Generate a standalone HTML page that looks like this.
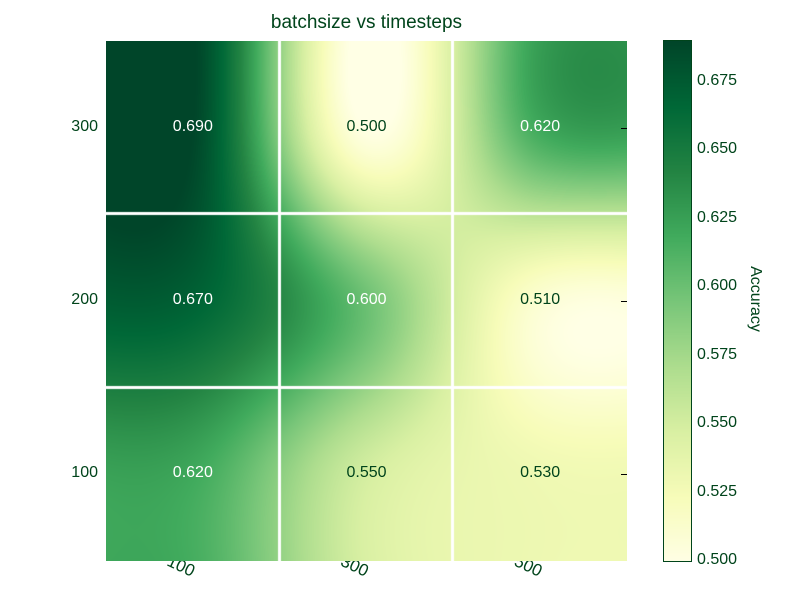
<!DOCTYPE html>
<html><head><meta charset="utf-8"><style>
body{margin:0;background:#fff;}
#wrap{position:relative;width:800px;height:600px;overflow:hidden;font-family:"Liberation Sans","DejaVu Sans",sans-serif;color:#00441b;}
.t{position:absolute;font-size:16px;white-space:nowrap;}
</style></head><body>
<div id="wrap">
<div class="t" style="left:0;width:733px;text-align:center;top:12px;font-size:19px;">batchsize vs timesteps</div>
<svg id="svg" width="800" height="600" style="position:absolute;left:0;top:0"></svg>
<canvas id="cv" width="521" height="520" style="position:absolute;left:106px;top:41px"></canvas>
<canvas id="cb" width="27" height="520" style="position:absolute;left:664px;top:41px;outline:1px solid #00441b"></canvas>
<div id="ov" style="position:absolute;left:0;top:0;width:800px;height:600px"></div>
<div class="t" style="left:722px;top:290px;transform:rotate(90deg);font-size:16px;">Accuracy</div>
</div>
<script>
const xCats=['100','300','500'];
const yCats=['300','200','100'];
const row300=[0.690,0.500,0.620];
const row200=[0.670,0.600,0.510];
const row100=[0.620,0.550,0.530];
const cbTicks=[0.500,0.525,0.550,0.575,0.600,0.625,0.650,0.675];
const vmin=0.5,vmax=0.69;
const grid=[row300,row200,row100];
const X0=106,Y0=41,W=521,H=520,cw=W/3,ch=H/3;
const stops=[[255,255,229],[247,252,185],[217,240,163],[173,221,142],[120,198,121],[65,171,93],[35,132,67],[0,104,55],[0,69,41]];
function cmap(v){let t=(v-vmin)/(vmax-vmin);t=Math.max(0,Math.min(1,t));const p=t*8,i=Math.min(7,Math.floor(p)),f=p-i;const a=stops[i],b=stops[i+1];return [a[0]+(b[0]-a[0])*f,a[1]+(b[1]-a[1])*f,a[2]+(b[2]-a[2])*f];}
function cr(p0,p1,p2,p3,t){return 0.5*((2*p1)+(-p0+p2)*t+(2*p0-5*p1+4*p2-p3)*t*t+(-p0+3*p1-3*p2+p3)*t*t*t);}
function g(r,c){r=Math.max(0,Math.min(2,r));c=Math.max(0,Math.min(2,c));return grid[r][c];}
function samp(gx,gy){const c=Math.floor(gx),r=Math.floor(gy),tx=gx-c,ty=gy-r;const rows=[];for(let j=-1;j<=2;j++){rows.push(cr(g(r+j,c-1),g(r+j,c),g(r+j,c+1),g(r+j,c+2),tx));}return cr(rows[0],rows[1],rows[2],rows[3],ty);}
const ctx=document.getElementById('cv').getContext('2d');
const img=ctx.createImageData(W,H);
for(let y=0;y<H;y++)for(let x=0;x<W;x++){const v=samp((x+0.5)/cw-0.5,(y+0.5)/ch-0.5);const c=cmap(v);const k=(y*W+x)*4;img.data[k]=c[0];img.data[k+1]=c[1];img.data[k+2]=c[2];img.data[k+3]=255;}
ctx.putImageData(img,0,0);
ctx.fillStyle='#fff';
for(let i=1;i<3;i++){ctx.fillRect(Math.round(i*cw)-2,0,3,H);ctx.fillRect(0,Math.round(i*ch)-2,W,3);}
const cb=document.getElementById('cb').getContext('2d');
for(let y=0;y<H;y++){const v=vmax-(y+0.5)/H*(vmax-vmin);const c=cmap(v);cb.fillStyle=`rgb(${c[0]|0},${c[1]|0},${c[2]|0})`;cb.fillRect(0,y,27,1);}
const svg=document.getElementById('svg'),ov=document.getElementById('ov');
const NS='http://www.w3.org/2000/svg';
function xPos(i){return X0+(i+0.5)*cw;}
function yPos(i){return Y0+(i+0.5)*ch;}
function cbY(v){return Y0+H-(v-vmin)/(vmax-vmin)*H;}
xCats.forEach((c,i)=>{const t=document.createElementNS(NS,'text');


const lx=xPos(i)-27,ly=565;
t.setAttribute('x',lx);t.setAttribute('y',ly);t.setAttribute('font-size','17');t.setAttribute('fill','#00441b');t.setAttribute('font-family','Liberation Sans, sans-serif');t.setAttribute('transform',`rotate(25 ${lx} ${ly})`);t.textContent=c;svg.appendChild(t);});
yCats.forEach((c,i)=>{const d=document.createElement('div');d.className='t';


d.style.cssText=`left:40px;width:58px;text-align:right;top:${yPos(i)-10}px`;d.textContent=c;ov.appendChild(d);
const tk=document.createElement('div');


tk.style.cssText=`position:absolute;left:621px;top:${yPos(i)}px;width:6px;height:1px;background:#000`;ov.appendChild(tk);});
grid.forEach((row,r)=>row.forEach((v,c)=>{const d=document.createElement('div');d.className='t';


d.style.cssText=`left:${xPos(c)-40}px;width:80px;text-align:center;top:${yPos(r)-10}px;font-size:16px;color:${v>=0.6?'#fff':'#00441b'}`;d.textContent=v.toFixed(3);ov.appendChild(d);}));
cbTicks.forEach(v=>{const d=document.createElement('div');d.className='t';


d.style.cssText=`left:697px;top:${cbY(v)-10}px;font-size:16px`;d.textContent=v.toFixed(3);ov.appendChild(d);});
</script>
</body></html>
